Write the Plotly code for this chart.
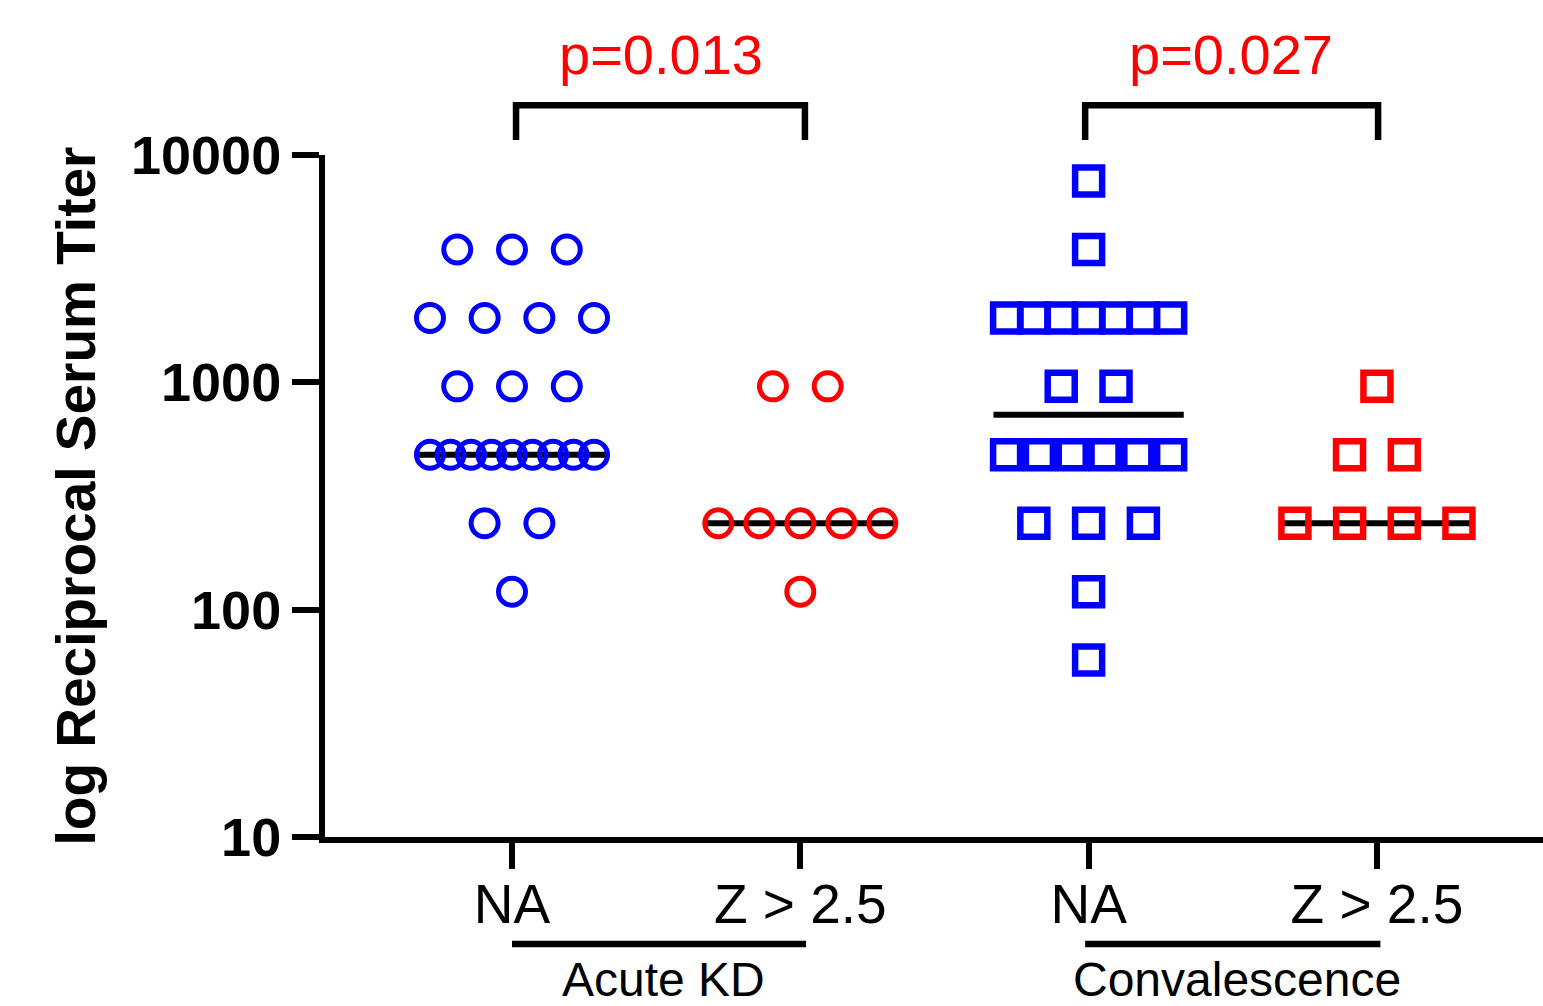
import numpy as np
import plotly.graph_objects as go
from collections import Counter

# ---- data (reciprocal serum titers) ----
categories = ["NA", "Z > 2.5", "NA", "Z > 2.5"]
group_labels = ["Acute KD", "Convalescence"]
p_values = ["p=0.013", "p=0.027"]

acute_na = [3840, 3840, 3840,
            1920, 1920, 1920, 1920,
            960, 960, 960,
            480, 480, 480, 480, 480, 480, 480, 480, 480,
            240, 240,
            120]
acute_z = [960, 960,
           240, 240, 240, 240, 240,
           120]
conv_na = [7680,
           3840,
           1920, 1920, 1920, 1920, 1920, 1920, 1920,
           960, 960,
           480, 480, 480, 480, 480, 480,
           240, 240, 240,
           120,
           60]
conv_z = [960,
          480, 480,
          240, 240, 240, 240]

y_tickvals = [10, 100, 1000, 10000]
y_ticktext = ["10", "100", "1000", "10000"]

groups = [acute_na, acute_z, conv_na, conv_z]
colors = ["#0000FF", "#FF0000", "#0000FF", "#FF0000"]
symbols = ["circle-open", "circle-open", "square-open", "square-open"]
lwidths = [5, 5, 6.5, 6.5]

FONT = "Liberation Sans, Arial, sans-serif"

fig = go.Figure()

# median lines (drawn first)
for i, vals in enumerate(groups):
    med = float(np.median(vals))
    fig.add_trace(go.Scatter(x=[i - 0.33, i + 0.33], y=[med, med], mode="lines",
                             line=dict(color="black", width=6), showlegend=False,
                             hoverinfo="skip"))

# scatter points with column-style spreading
for i, vals in enumerate(groups):
    cnt = Counter(vals)
    xs, ys = [], []
    for v, n in cnt.items():
        sp = min(0.19, 0.569 / (n - 1)) if n > 1 else 0
        for k in range(n):
            xs.append(i + (k - (n - 1) / 2) * sp)
            ys.append(v)
    fig.add_trace(go.Scatter(x=xs, y=ys, mode="markers",
                             marker=dict(symbol=symbols[i], size=27, color=colors[i],
                                         line=dict(color=colors[i], width=lwidths[i])),
                             showlegend=False, cliponaxis=False))

shapes = []
bracket_spans = [(0.014, 1.016), (1.988, 3.004)]
underline_spans = [(0.0, 1.02), (1.988, 3.012)]
for (a, b) in bracket_spans:
    shapes.append(dict(type="path", xref="x", yref="paper",
                       path=f"M {a},1.022 L {a},1.073 L {b},1.073 L {b},1.022",
                       line=dict(color="black", width=6.5)))
for (a, b) in underline_spans:
    shapes.append(dict(type="line", xref="x", yref="paper", x0=a, x1=b,
                       y0=-0.157, y1=-0.157, line=dict(color="black", width=6.5)))
fig.update_layout(shapes=shapes)

annotations = []
p_x = [0.517, 2.494]
g_x = [0.524, 2.515]
for j in range(2):
    annotations.append(dict(text=p_values[j], x=p_x[j], xref="x", y=1.148, yref="paper",
                            showarrow=False, font=dict(family=FONT, size=56, color="#FF0000"),
                            yanchor="middle"))
    annotations.append(dict(text=group_labels[j], x=g_x[j], xref="x", y=-0.209, yref="paper",
                            showarrow=False, font=dict(family=FONT, size=48, color="black"),
                            yanchor="middle"))
fig.update_layout(annotations=annotations)

fig.update_xaxes(range=[-0.6486, 3.576], tickmode="array", tickvals=[0, 1, 2, 3],
                 ticktext=categories, showline=True, linecolor="black", linewidth=6,
                 ticks="outside", ticklen=26, tickwidth=6, tickcolor="black",
                 ticklabelstandoff=-12,
                 showgrid=False, zeroline=False,
                 tickfont=dict(family=FONT, size=55, color="black"))
fig.update_yaxes(type="log", range=[1, 4], tickmode="array", tickvals=y_tickvals,
                 ticktext=[f"<b>{t}</b>" for t in y_ticktext],
                 showline=True, linecolor="black", linewidth=6,
                 ticks="outside", ticklen=27, tickwidth=6, tickcolor="black",
                 showgrid=False, zeroline=False,
                 tickfont=dict(family=FONT, size=54, color="black"),
                 title=dict(text="<b>log Reciprocal Serum Titer</b>",
                            font=dict(family=FONT, size=55, color="black"), standoff=20))

fig.update_layout(width=1543, height=1006, autosize=False,
                  margin=dict(l=325, r=0, t=155, b=169),
                  plot_bgcolor="white", paper_bgcolor="white")

fig.write_html("out.html")
